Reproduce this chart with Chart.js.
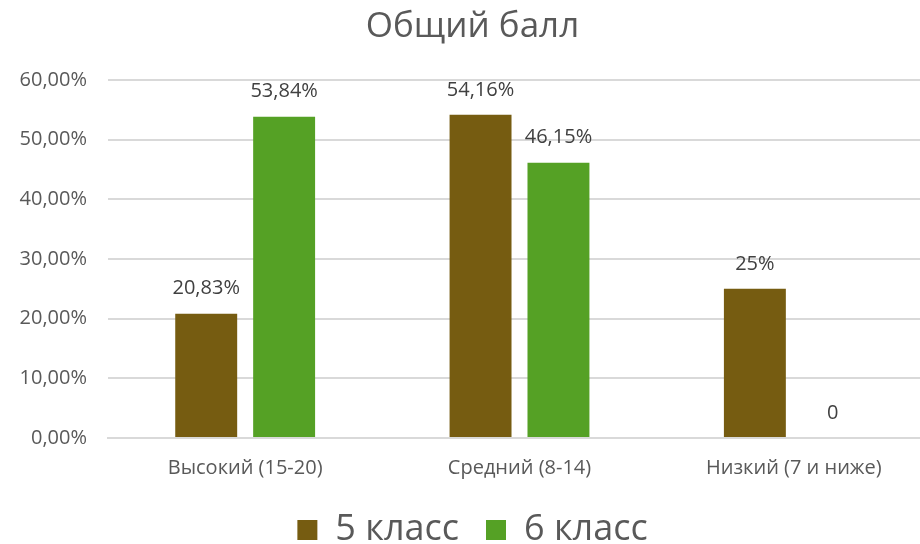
<!DOCTYPE html>
<html>
<head>
<meta charset="utf-8">
<script src="https://cdn.jsdelivr.net/npm/chart.js@4/dist/chart.umd.min.js"></script>
<style>
  html, body { margin: 0; padding: 0; background: #fff; overflow: hidden; }
  #wrap { width: 956px; height: 558px; }
</style>
</head>
<body>
<div id="wrap"><canvas id="chart"></canvas></div>
<script>
const categories = ['Высокий (15-20)', 'Средний (8-14)', 'Низкий (7 и ниже)'];
const grade5 = [20.83, 54.16, 25];
const grade6 = [53.84, 46.15, 0];
const grade5Labels = ['20,83%', '54,16%', '25%'];
const grade6Labels = ['53,84%', '46,15%', '0'];
const yTicks = ['0,00%', '10,00%', '20,00%', '30,00%', '40,00%', '50,00%', '60,00%'];

const FONT = "'Open Sans', sans-serif";

// draws the value above each bar
const barLabels = {
  id: 'barLabels',
  afterDatasetsDraw(chart) {
    const ctx = chart.ctx;
    const texts = [grade5Labels, grade6Labels];
    ctx.save();
    ctx.font = '20px ' + FONT;
    ctx.fillStyle = '#404040';
    ctx.textAlign = 'center';
    ctx.textBaseline = 'middle';
    chart.data.datasets.forEach((ds, i) => {
      chart.getDatasetMeta(i).data.forEach((bar, j) => {
        ctx.fillText(texts[i][j], bar.x, bar.y - 25);
      });
    });
    ctx.restore();
  }
};

new Chart(document.getElementById('chart').getContext('2d'), {
  type: 'bar',
  data: {
    labels: categories,
    datasets: [{
      label: '5 класс',
      data: grade5,
      backgroundColor: '#765c11',
      categoryPercentage: 0.568,
      barPercentage: 0.795
    }, {
      label: '6 класс',
      data: grade6,
      backgroundColor: '#55a125',
      categoryPercentage: 0.568,
      barPercentage: 0.795
    }]
  },
  options: {
    responsive: true,
    maintainAspectRatio: false,
    animation: false,
    layout: { padding: { left: 14, right: 25, top: 0, bottom: 0 } },
    scales: {
      x: {
        grid: { display: false },
        border: { color: '#d9d9d9', width: 2 },
        ticks: { color: '#595959', font: { family: FONT, size: 20 }, padding: 10 },
        afterFit: (scale) => { scale.height = 47; }
      },
      y: {
        min: 0,
        max: 60,
        grid: { color: '#d9d9d9', lineWidth: 2, drawTicks: false },
        border: { display: false },
        ticks: {
          stepSize: 10,
          padding: 21,
          color: '#595959',
          font: { family: FONT, size: 20 },
          callback: (v) => yTicks[v / 10]
        },
        afterFit: (scale) => { scale.width = 94; }
      }
    },
    plugins: {
      title: {
        display: true,
        text: 'Общий балл',
        color: '#595959',
        font: { family: FONT, size: 35, weight: 'normal' },
        padding: { top: 6, bottom: 32 }
      },
      legend: {
        position: 'bottom',
        labels: {
          color: '#595959',
          font: { family: FONT, size: 36, lineHeight: 1 },
          boxWidth: 20,
          boxHeight: 20,
          padding: 27
        }
      },
      tooltip: { enabled: false }
    }
  },
  plugins: [barLabels]
});
</script>
</body>
</html>
